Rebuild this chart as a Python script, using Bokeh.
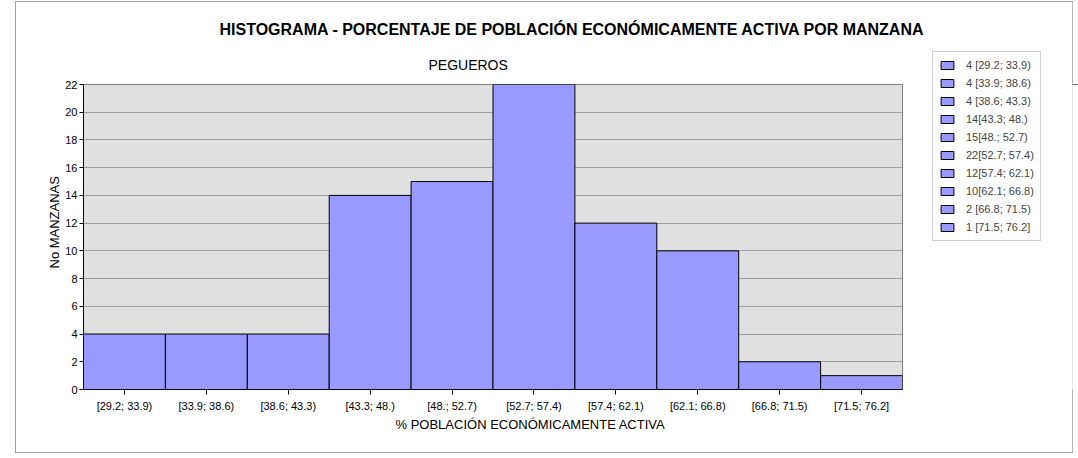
from bokeh.plotting import figure
from bokeh.layouts import row
from bokeh.models import (Title, Legend, LegendItem, FactorRange,
                          Range1d, FixedTicker, ColumnDataSource)
from bokeh.embed import file_html
from bokeh.resources import INLINE

# ---- data ----
bins = ["[29.2; 33.9)", "[33.9; 38.6)", "[38.6; 43.3)", "[43.3; 48.)", "[48.; 52.7)",
        "[52.7; 57.4)", "[57.4; 62.1)", "[62.1; 66.8)", "[66.8; 71.5)", "[71.5; 76.2]"]
counts = [4, 4, 4, 14, 15, 22, 12, 10, 2, 1]
y_ticks = [0, 2, 4, 6, 8, 10, 12, 14, 16, 18, 20, 22]
title_text = "HISTOGRAMA - PORCENTAJE DE POBLACIÓN ECONÓMICAMENTE ACTIVA POR MANZANA"
subtitle_text = "PEGUEROS"
x_title = "% POBLACIÓN ECONÓMICAMENTE ACTIVA"
y_title = "No MANZANAS"
legend_labels = [(f"{c} " if c < 10 else f"{c}") + b for c, b in zip(counts, bins)]

FONT = "Liberation Sans"
BAR = "#9999ff"

src = ColumnDataSource(dict(x=bins, top=counts))

# ---------------- main chart ----------------
p = figure(width=912, height=450, title=None,
           x_range=FactorRange(*bins, range_padding=0),
           y_range=Range1d(0, max(y_ticks)),
           output_backend="svg", toolbar_location=None,
           min_border_left=67, min_border_right=26,
           min_border_top=82, min_border_bottom=63)

p.background_fill_color = "#e0e0e0"
p.border_fill_color = "white"
p.outline_line_color = "#808080"
p.outline_line_width = 1

p.vbar(x="x", top="top", width=1.0, source=src, fill_color=BAR,
       line_color="black", line_width=1)

p.xgrid.visible = False
p.ygrid.grid_line_color = "#a0a0a0"
p.ygrid.grid_line_width = 1
p.yaxis.ticker = FixedTicker(ticks=y_ticks)

for ax in (p.xaxis[0], p.yaxis[0]):
    ax.axis_line_color = "black"
    ax.major_tick_line_color = "black"
    ax.minor_tick_line_color = None
    ax.major_tick_in = 0
    ax.major_label_text_font = FONT
    ax.major_label_text_font_size = "11px"
    ax.major_label_text_color = "black"

p.yaxis.major_tick_out = 4
p.yaxis.major_label_standoff = 2
p.xaxis.major_tick_out = 5
p.xaxis.major_label_standoff = 5

p.add_layout(Title(text=subtitle_text, align="left", offset=345, standoff=24,
                   text_font=FONT, text_font_size="14px", text_font_style="normal",
                   text_color="black"), "above")
p.add_layout(Title(text=title_text, align="left", offset=136, standoff=10,
                   text_font=FONT, text_font_size="16px", text_font_style="bold",
                   text_color="black"), "above")
p.add_layout(Title(text=x_title, align="left", offset=312, standoff=1,
                   text_font=FONT, text_font_size="13px", text_font_style="normal",
                   text_color="black"), "below")
p.add_layout(Title(text=y_title, align="left", offset=121, standoff=2,
                   text_font=FONT, text_font_size="13px", text_font_style="normal",
                   text_color="black"), "left")

# ---------------- legend panel ----------------
q = figure(width=144, height=450, title=None,
           x_range=FactorRange(*bins, range_padding=0),
           y_range=Range1d(-2, -1),
           output_backend="svg", toolbar_location=None,
           x_axis_location=None, y_axis_location=None,
           min_border=0, min_border_left=0, min_border_right=0,
           min_border_top=0, min_border_bottom=0)
q.grid.visible = False
q.outline_line_color = None
q.background_fill_color = "white"
q.border_fill_color = "white"
lr = q.vbar(x="x", top="top", width=1.0, source=src, fill_color=BAR,
            line_color="black", line_width=1)

items = [LegendItem(label=lab, renderers=[lr], index=i) for i, lab in enumerate(legend_labels)]
legend = Legend(items=items, location=(4, 148), orientation="vertical",
                border_line_color="#a0a0a0", border_line_width=1.5,
                background_fill_color="white", background_fill_alpha=1,
                padding=6, spacing=4, margin=0, label_standoff=11,
                glyph_width=16, glyph_height=10, label_height=14,
                label_text_font=FONT, label_text_font_size="11px",
                label_text_baseline="middle")
q.add_layout(legend, "left")

layout = row(p, q, spacing=0,
             styles={"border": "1px solid #a0a0a0", "margin-left": "15px",
                     "margin-top": "1px"})

open("out.html", "w").write(file_html(layout, INLINE))
